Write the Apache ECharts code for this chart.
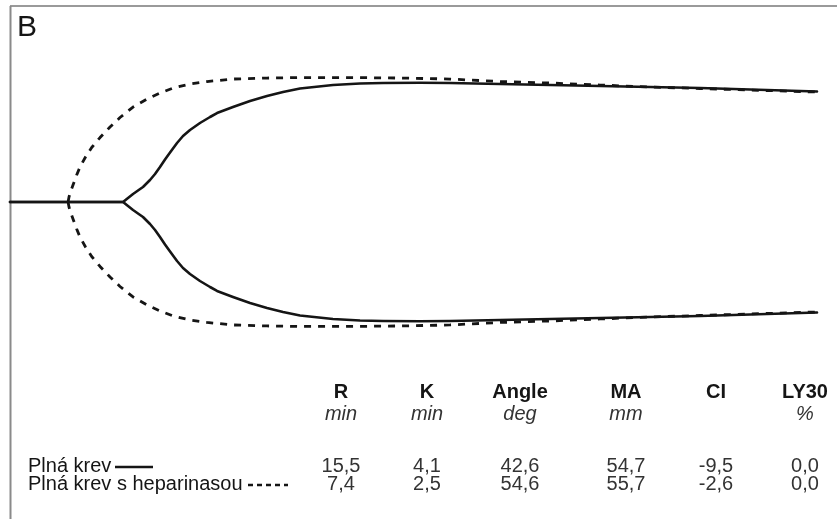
<!DOCTYPE html>
<html>
<head>
<meta charset="utf-8">
<script src="https://cdn.jsdelivr.net/npm/echarts@6/dist/echarts.min.js"></script>
<style>
  html, body { margin: 0; padding: 0; background: #fff; }
  #chart { width: 837px; height: 519px; }
</style>
</head>
<body>
<div id="chart"></div>
<script>
// Time (min) and half-amplitude (mm) of the TEG traces
const timeSolid = [-1.15, 15.5, 16.23, 16.97, 17.70, 18.44, 19.47, 20.21, 20.94, 21.68, 22.42, 23.45, 24.33, 25.36, 26.83, 28.31, 29.34, 31.69, 34.20, 36.70, 39.06, 41.56, 46.42, 50.40, 53.79, 59.24, 63.65, 71.02, 78.38, 85.74, 93.11, 100.47, 107.84, 117.70];
const ampSolid  = [0, 0, 0.92, 1.84, 2.64, 3.45, 5.06, 6.44, 8.04, 9.77, 11.38, 13.56, 15.17, 16.55, 18.16, 19.54, 20.45, 21.83, 23.21, 24.36, 25.28, 26.09, 26.89, 27.24, 27.35, 27.42, 27.35, 27.12, 26.89, 26.66, 26.43, 26.20, 25.86, 25.40];

const timeDashed = [7.4, 7.54, 7.76, 8.13, 8.67, 9.16, 9.97, 10.88, 12.11, 13.58, 15.05, 16.97, 19.03, 20.94, 22.86, 25.36, 27.86, 31.69, 36.70, 41.56, 48.92, 56.29, 63.65, 71.02, 78.38, 85.74, 93.11, 100.47, 107.84, 117.70];
const ampDashed  = [0, 1.15, 2.30, 3.91, 6.21, 8.04, 10.34, 12.53, 14.82, 17.24, 19.42, 21.83, 23.67, 25.05, 26.20, 27.12, 27.69, 28.27, 28.50, 28.61, 28.61, 28.50, 28.27, 27.69, 27.35, 26.89, 26.43, 26.09, 25.74, 25.28];

// Parameter table
const paramNames  = ['R', 'K', 'Angle', 'MA', 'CI', 'LY30'];
const paramUnits  = ['min', 'min', 'deg', 'mm', '', '%'];
const valuesSolid  = ['15,5', '4,1', '42,6', '54,7', '-9,5', '0,0'];
const valuesDashed = ['7,4', '2,5', '54,6', '55,7', '-2,6', '0,0'];
const legendNames  = ['Plná krev', 'Plná krev s heparinasou'];
const panelLabel = 'B';

// ---- layout / style ----
const colX = [341, 427, 520, 626, 716, 805];
const FONT = 'Liberation Sans, Arial, Helvetica, sans-serif';
const ink = '#151515';

const chart = echarts.init(document.getElementById('chart'), null, { renderer: 'canvas' });

function pairs(t, a, sign) { return t.map((v, i) => [v, sign * a[i]]); }

const solidStyle = { color: ink, width: 2.6, type: 'solid', cap: 'round', join: 'round' };
const dashStyle = { color: ink, width: 2.8, type: [7, 7], cap: 'butt', join: 'round' };

function lineSeries(name, data, style, z) {
  return {
    type: 'line', name, data, showSymbol: false, symbol: 'none',
    smooth: false, lineStyle: style, z, silent: true, animation: false
  };
}

const graphics = [];
// frame
graphics.push({ type: 'line', shape: { x1: 10, y1: 6, x2: 837, y2: 6 }, style: { stroke: '#9a9a9a', lineWidth: 2 } });
graphics.push({ type: 'line', shape: { x1: 10.5, y1: 6, x2: 10.5, y2: 519 }, style: { stroke: '#8a8a8a', lineWidth: 2 } });
// panel label
graphics.push({ type: 'text', x: 17, y: 28, style: { text: panelLabel, font: '30px ' + FONT, fill: ink, verticalAlign: 'middle', align: 'left' } });

paramNames.forEach((n, i) => {
  graphics.push({ type: 'text', x: colX[i], y: 392, style: { text: n, font: 'bold 20px ' + FONT, fill: ink, align: 'center', verticalAlign: 'middle' } });
  if (paramUnits[i]) {
    graphics.push({ type: 'text', x: colX[i], y: 414, style: { text: paramUnits[i], font: 'italic 20px ' + FONT, fill: '#333', align: 'center', verticalAlign: 'middle' } });
  }
  graphics.push({ type: 'text', x: colX[i], y: 466, style: { text: valuesSolid[i], font: '20px ' + FONT, fill: '#333', align: 'center', verticalAlign: 'middle' } });
  graphics.push({ type: 'text', x: colX[i], y: 484, style: { text: valuesDashed[i], font: '20px ' + FONT, fill: '#333', align: 'center', verticalAlign: 'middle' } });
});

// legend
graphics.push({ type: 'text', x: 28, y: 466, style: { text: legendNames[0], font: '20px ' + FONT, fill: ink, align: 'left', verticalAlign: 'middle' } });
graphics.push({ type: 'line', shape: { x1: 115, y1: 467, x2: 153, y2: 467 }, style: { stroke: ink, lineWidth: 2.4 } });
graphics.push({ type: 'text', x: 28, y: 484, style: { text: legendNames[1], font: '20px ' + FONT, fill: ink, align: 'left', verticalAlign: 'middle' } });
graphics.push({ type: 'line', shape: { x1: 248, y1: 485, x2: 288, y2: 485 }, style: { stroke: ink, lineWidth: 2.4, lineDash: [5, 4] } });

chart.setOption({
  animation: false,
  backgroundColor: '#ffffff',
  grid: { left: 10, right: 20, top: 71.5, height: 261, containLabel: false },
  xAxis: { type: 'value', min: -1.15, max: 117.7, show: false },
  yAxis: { type: 'value', min: -30, max: 30, show: false },
  series: [
    lineSeries('Plná krev s heparinasou', pairs(timeDashed, ampDashed, 1), dashStyle, 2),
    lineSeries('Plná krev s heparinasou', pairs(timeDashed, ampDashed, -1), dashStyle, 2),
    lineSeries('Plná krev', pairs(timeSolid, ampSolid, 1), solidStyle, 3),
    lineSeries('Plná krev', pairs(timeSolid, ampSolid, -1), solidStyle, 3)
  ],
  graphic: graphics
});
</script>
</body>
</html>
